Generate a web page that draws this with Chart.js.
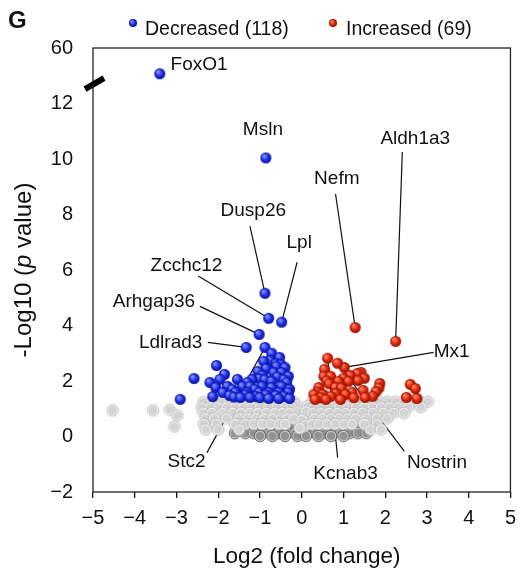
<!DOCTYPE html>
<html lang="en">
<head>
  <meta charset="UTF-8" />
  <title>Volcano plot</title>
  <script src="https://cdn.jsdelivr.net/npm/chart.js"></script>
  <style>
    html, body {
      margin: 0;
      padding: 0;
      background: #fff;
    }
    #wrap {
      width: 524px;
      height: 568px;
    }
    canvas {
      display: block;
    }
  </style>
</head>
<body>
  <div id="wrap"><canvas id="volcano" width="524" height="568"></canvas></div>

  <script>
    // tick labels
    const xTicks = [-5, -4, -3, -2, -1, 0, 1, 2, 3, 4, 5];
    const yTicks = [-2, 0, 2, 4, 6, 8, 10, 12, 14];
    const yTickText = ['\u22122', '0', '2', '4', '6', '8', '10', '12', '60'];

    const legendText = ['Decreased (118)', 'Increased (69)'];

    // labelled genes (FoxO1 sits above the axis break)
    const geneNames = ['FoxO1', 'Msln', 'Dusp26', 'Zcchc12', 'Lpl', 'Arhgap36', 'Ldlrad3', 'Stc2',
                       'Nefm', 'Aldh1a3', 'Mx1', 'Kcnab3', 'Nostrin'];
    const geneX = [-3.40, -0.86, -0.88, -0.79, -0.48, -1.02, -1.33, -0.88, 1.28, 2.25, 1.02, 0.62, 0.86];
    const geneY = [13.07, 10.04, 5.16, 4.26, 4.12, 3.68, 3.21, 3.21, 3.93, 3.43, 2.49, 2.82, 2.64];

    // other significant genes
    const decreased = [
      [-0.72, 3.00], [-0.53, 2.85], [-0.76, 2.74], [-0.91, 2.71], [-0.62, 2.62], [-0.50, 2.60],
      [-2.04, 2.56], [-0.60, 2.53], [-0.85, 2.45], [-0.40, 2.48], [-1.05, 2.35], [-0.67, 2.31],
      [-0.48, 2.31], [-1.85, 2.24], [-0.95, 2.20], [-0.32, 2.17], [-0.58, 2.15], [-2.58, 2.09],
      [-1.02, 2.09], [-1.96, 2.06], [-1.54, 2.06], [-1.19, 2.06], [-0.88, 2.05], [-0.42, 2.05],
      [-0.72, 1.99], [-2.20, 1.95], [-1.30, 1.95], [-0.36, 1.95], [-1.78, 1.81], [-1.42, 1.81],
      [-1.24, 1.81], [-0.95, 1.81], [-0.48, 1.81], [-2.06, 1.77], [-0.72, 1.77], [-1.66, 1.70],
      [-1.12, 1.70], [-0.29, 1.70], [-1.89, 1.59], [-1.59, 1.59], [-1.31, 1.59], [-1.02, 1.59],
      [-0.79, 1.59], [-0.55, 1.59], [-0.32, 1.59], [-1.35, 1.50], [-0.86, 1.50], [-1.73, 1.48],
      [-0.62, 1.48], [-2.13, 1.44], [-1.10, 1.45], [-0.42, 1.45], [-1.62, 1.42], [-1.47, 1.41],
      [-1.24, 1.41], [-1.00, 1.40], [-0.79, 1.37], [-0.55, 1.37], [-0.29, 1.37], [-2.91, 1.34]
    ];
    const increased = [
      [0.55, 2.42], [1.42, 2.31], [1.33, 2.27], [1.16, 2.20], [0.53, 2.17], [0.69, 2.17],
      [1.00, 2.10], [1.50, 2.10], [1.35, 2.02], [0.60, 2.00], [1.12, 1.99], [0.88, 1.99],
      [1.87, 1.91], [0.66, 1.90], [2.60, 1.88], [0.41, 1.77], [0.81, 1.77], [0.95, 1.75],
      [1.85, 1.75], [2.72, 1.73], [1.47, 1.66], [1.78, 1.62], [1.20, 1.60], [0.38, 1.60],
      [0.81, 1.55], [0.29, 1.52], [0.51, 1.52], [1.05, 1.52], [0.70, 1.45], [1.70, 1.45],
      [1.52, 1.41], [2.51, 1.41], [0.45, 1.40], [1.25, 1.40], [2.76, 1.37], [0.32, 1.34],
      [0.58, 1.34], [0.93, 1.34]
    ];

    // not significant
    const unchanged = [
      [-4.53, 0.94], [-3.56, 0.94], [-3.16, 0.97], [-2.98, 0.76], [-3.05, 0.36],
      [-2.35, 1.25], [-2.15, 1.25], [-1.95, 1.25], [-1.75, 1.25], [-1.55, 1.25], [-1.35, 1.25],
      [-1.15, 1.25], [-0.95, 1.25], [-0.75, 1.25], [-0.55, 1.25], [-0.35, 1.25], [-0.20, 1.25],
      [0.25, 1.25], [0.45, 1.25], [0.65, 1.25], [0.85, 1.25], [1.05, 1.25], [1.25, 1.25],
      [1.45, 1.25], [1.65, 1.25], [1.85, 1.25], [2.05, 1.25], [2.25, 1.25], [2.45, 1.25],
      [2.65, 1.25], [2.85, 1.25], [3.02, 1.25], [-0.12, 1.15], [0.15, 1.10],
      [-2.40, 1.05], [-2.20, 1.05], [-2.00, 1.05], [-1.80, 1.05], [-1.60, 1.05], [-1.40, 1.05],
      [-1.20, 1.05], [-1.00, 1.05], [-0.80, 1.05], [-0.60, 1.05], [-0.40, 1.05], [-0.25, 1.05],
      [0.30, 1.05], [0.50, 1.05], [0.70, 1.05], [0.90, 1.05], [1.10, 1.05], [1.30, 1.05],
      [1.50, 1.05], [1.70, 1.05], [1.90, 1.05], [2.10, 1.05], [2.30, 1.05], [2.55, 1.05],
      [2.85, 1.05], [-0.10, 0.90], [0.10, 0.90],
      [-2.35, 0.85], [-2.15, 0.85], [-1.90, 0.85], [-1.65, 0.85], [-1.45, 0.85], [-1.25, 0.85],
      [-1.05, 0.85], [-0.85, 0.85], [-0.65, 0.85], [-0.45, 0.85], [-0.30, 0.85],
      [0.25, 0.85], [0.45, 0.85], [0.65, 0.85], [0.85, 0.85], [1.05, 0.85], [1.25, 0.85],
      [1.45, 0.85], [1.70, 0.85], [1.95, 0.85], [2.20, 0.85], [2.45, 0.85],
      [-2.30, 0.65], [-2.10, 0.65], [-1.80, 0.65], [-1.50, 0.65], [-1.30, 0.65], [-1.10, 0.65],
      [-0.90, 0.65], [-0.70, 0.65], [-0.50, 0.65], [-0.35, 0.65], [-0.20, 0.65], [0.00, 0.60],
      [0.30, 0.65], [0.50, 0.65], [0.70, 0.65], [0.90, 0.65], [1.10, 0.65], [1.30, 0.65],
      [1.55, 0.65], [1.80, 0.65], [2.05, 0.65],
      [-2.35, 0.45], [-2.05, 0.45], [-1.60, 0.45], [-1.35, 0.45], [-1.15, 0.45], [-0.95, 0.45],
      [-0.75, 0.45], [-0.55, 0.45], [-0.40, 0.45], [0.08, 0.40], [0.25, 0.45], [0.40, 0.45],
      [0.60, 0.45], [0.80, 0.45], [1.00, 0.45], [1.20, 0.45], [1.50, 0.45], [1.80, 0.45],
      [-2.30, 0.25], [-2.00, 0.25], [-1.50, 0.25], [-0.05, 0.30], [1.65, 0.25], [1.90, 0.25]
    ];
    const unchangedLow = [
      [-1.45, 0.30], [-1.25, 0.30], [-1.05, 0.30], [-0.85, 0.30], [-0.65, 0.30], [-0.45, 0.30],
      [-0.25, 0.30], [0.20, 0.30], [0.40, 0.30], [0.60, 0.30], [0.80, 0.30], [1.00, 0.30],
      [1.20, 0.30], [1.40, 0.30],
      [-1.60, 0.12], [-1.35, 0.12], [-1.15, 0.12], [-0.95, 0.12], [-0.75, 0.12], [-0.55, 0.12],
      [-0.35, 0.12], [-0.15, 0.12], [0.00, 0.12], [0.15, 0.12], [0.35, 0.12], [0.55, 0.12],
      [0.75, 0.12], [0.95, 0.12], [1.15, 0.12], [1.35, 0.12], [1.55, 0.12],
      [-1.00, 0.02], [-0.70, 0.02], [-0.40, 0.02], [-0.10, 0.02], [0.10, 0.02], [0.40, 0.02],
      [0.70, 0.02], [1.00, 0.02]
    ];

    // where each gene name goes (text centre) and where its leader line starts
    const labelSpots = {
      FoxO1:    { tx: -2.46, ty: 13.39 },
      Msln:     { tx: -0.93, ty: 11.05 },
      Dusp26:   { tx: -1.16, ty: 8.12, lx: -1.24, ly: 7.58 },
      Lpl:      { tx: -0.06, ty: 6.97, lx: -0.11, ly: 6.28 },
      Zcchc12:  { tx: -2.76, ty: 6.17, lx: -2.48, ly: 5.78 },
      Arhgap36: { tx: -3.54, ty: 4.84, lx: -2.44, ly: 4.69 },
      Ldlrad3:  { tx: -3.14, ty: 3.39, lx: -2.25, ly: 3.39 },
      Stc2:     { tx: -2.76, ty: -0.90, lx: -2.27, ly: -0.58 },
      Nefm:     { tx: 0.84, ty: 9.28, lx: 0.81, ly: 8.74 },
      Aldh1a3:  { tx: 2.72, ty: 10.72, lx: 2.41, ly: 10.25 },
      Mx1:      { tx: 3.59, ty: 3.07, lx: 3.16, ly: 3.03 },
      Kcnab3:   { tx: 1.05, ty: -1.34, lx: 0.86, ly: -0.76 },
      Nostrin:  { tx: 3.24, ty: -0.94, lx: 2.46, ly: -0.54 }
    };

    const FONT = '"Liberation Sans", Arial, Helvetica, sans-serif';

    function sphere(r, c1, c2, c3) {
      const c = document.createElement('canvas');
      c.width = c.height = Math.ceil(2 * r + 2);
      const g = c.getContext('2d');
      const m = c.width / 2;
      const grad = g.createRadialGradient(m - r * 0.35, m - r * 0.4, r * 0.1, m, m, r);
      grad.addColorStop(0, c1);
      grad.addColorStop(0.55, c2);
      grad.addColorStop(1, c3);
      g.fillStyle = grad;
      g.beginPath();
      g.arc(m, m, r, 0, Math.PI * 2);
      g.fill();
      return c;
    }

    function disk(r, ring, fill, edge) {
      const c = document.createElement('canvas');
      c.width = c.height = Math.ceil(2 * r + 2);
      const g = c.getContext('2d');
      const m = c.width / 2;
      g.fillStyle = ring;
      g.strokeStyle = edge;
      g.lineWidth = 0.8;
      g.beginPath();
      g.arc(m, m, r, 0, Math.PI * 2);
      g.fill();
      g.stroke();
      g.fillStyle = fill;
      g.beginPath();
      g.arc(m, m, r * 0.7, 0, Math.PI * 2);
      g.fill();
      return c;
    }

    const blueBall = sphere(5.5, '#8a96ff', '#1f30ee', '#0a1090');
    const redBall = sphere(5.5, '#ff8d72', '#e5280c', '#8c1200');
    const grayDisk = disk(5.8, '#ececec', '#d3d3d3', '#b9b9b9');
    const darkDisk = disk(5.8, '#c2c2c2', '#929292', '#5e5e5e');

    const toPts = arr => arr.map(p => ({ x: p[0], y: p[1] }));
    const geneDown = [], geneUp = [];
    geneNames.forEach((n, i) => (geneX[i] < 0 ? geneDown : geneUp).push({ x: geneX[i], y: geneY[i] }));

    function fmt(v) {
      return v < 0 ? '\u2212' + Math.abs(v) : String(v);
    }

    const decorations = {
      id: 'decorations',
      beforeDatasetsDraw(chart) {
        const { ctx, scales: { x, y } } = chart;
        ctx.save();
        ctx.strokeStyle = '#111';
        ctx.lineWidth = 1.2;
        geneNames.forEach((n, i) => {
          const s = labelSpots[n];
          if (s.lx === undefined) return;
          ctx.beginPath();
          ctx.moveTo(x.getPixelForValue(s.lx), y.getPixelForValue(s.ly));
          ctx.lineTo(x.getPixelForValue(geneX[i]), y.getPixelForValue(geneY[i]));
          ctx.stroke();
        });
        ctx.restore();
      },
      afterDatasetsDraw(chart) {
        const { ctx, chartArea: a, scales: { x, y } } = chart;
        ctx.save();
        // frame
        ctx.strokeStyle = '#222';
        ctx.lineWidth = 1.3;
        ctx.strokeRect(a.left, a.top, a.right - a.left, a.bottom - a.top);

        // axis break
        const by = y.getPixelForValue(12.7);
        ctx.strokeStyle = '#000';
        ctx.lineWidth = 6;
        ctx.beginPath();
        ctx.moveTo(a.left - 8, by + 5);
        ctx.lineTo(a.left + 11, by - 6);
        ctx.stroke();

        // gene names
        ctx.fillStyle = '#111';
        ctx.font = '19px ' + FONT;
        ctx.textAlign = 'center';
        ctx.textBaseline = 'middle';
        geneNames.forEach(n => {
          const s = labelSpots[n];
          ctx.fillText(n, x.getPixelForValue(s.tx), y.getPixelForValue(s.ty));
        });
        ctx.restore();
      },
      afterDraw(chart) {
        const { ctx, chartArea: a } = chart;
        ctx.save();
        ctx.fillStyle = '#111';
        ctx.textBaseline = 'alphabetic';

        // panel letter
        ctx.font = 'bold 24px ' + FONT;
        ctx.textAlign = 'left';
        ctx.fillText('G', 8, 28);

        // legend
        ctx.font = '19.5px ' + FONT;
        ctx.drawImage(sphere(4, '#8a96ff', '#1f30ee', '#0a1090'), 128, 18);
        ctx.fillText(legendText[0], 145, 35);
        ctx.drawImage(sphere(4, '#ff8d72', '#e5280c', '#8c1200'), 328, 18);
        ctx.fillText(legendText[1], 346, 35);

        // axis titles
        ctx.font = '22.5px ' + FONT;
        ctx.textAlign = 'center';
        ctx.fillText('Log2 (fold change)', (a.left + a.right) / 2 + 5, 563);

        const size = '24px ';
        const parts = [['-Log10 (', ''], ['p', 'italic '], [' value)', '']];
        let total = 0;
        parts.forEach(p => {
          ctx.font = p[1] + size + FONT;
          p.push(ctx.measureText(p[0]).width);
          total += p[2];
        });
        ctx.translate(31, (a.top + a.bottom) / 2);
        ctx.rotate(-Math.PI / 2);
        ctx.textAlign = 'left';
        let cx = -total / 2;
        parts.forEach(p => {
          ctx.font = p[1] + size + FONT;
          ctx.fillText(p[0], cx, 0);
          cx += p[2];
        });
        ctx.restore();
      }
    };

    new Chart(document.getElementById('volcano'), {
      type: 'scatter',
      data: {
        datasets: [
          { label: legendText[0], data: geneDown.concat(toPts(decreased)), pointStyle: blueBall, order: 0 },
          { label: legendText[1], data: geneUp.concat(toPts(increased)), pointStyle: redBall, order: 1 },
          { label: 'unchanged', data: toPts(unchanged), pointStyle: grayDisk, order: 2 },
          { label: 'unchanged low', data: toPts(unchangedLow), pointStyle: darkDisk, order: 3 }
        ]
      },
      options: {
        responsive: false,
        animation: false,
        events: [],
        layout: { padding: { top: 48, right: 6, left: 0, bottom: 0 } },
        plugins: {
          legend: { display: false },
          tooltip: { enabled: false }
        },
        scales: {
          x: {
            type: 'linear',
            min: xTicks[0],
            max: xTicks[xTicks.length - 1],
            afterFit: s => { s.height = 76; },
            afterBuildTicks: s => { s.ticks = xTicks.map(v => ({ value: v })); },
            border: { display: false },
            grid: { drawOnChartArea: false, drawTicks: true, tickLength: 6, color: '#111', lineWidth: 1.3 },
            ticks: {
              color: '#111',
              padding: 8,
              maxRotation: 0,
              font: { family: FONT, size: 20 },
              callback: v => fmt(v)
            }
          },
          y: {
            type: 'linear',
            min: yTicks[0],
            max: yTicks[yTicks.length - 1],
            afterFit: s => { s.width = 93; },
            afterBuildTicks: s => { s.ticks = yTicks.map(v => ({ value: v })); },
            border: { display: false },
            grid: { display: false, drawTicks: false },
            ticks: {
              color: '#111',
              padding: 20,
              font: { family: FONT, size: 20 },
              callback: v => yTickText[yTicks.indexOf(v)]
            }
          }
        }
      },
      plugins: [decorations]
    });
  </script>
</body>
</html>
